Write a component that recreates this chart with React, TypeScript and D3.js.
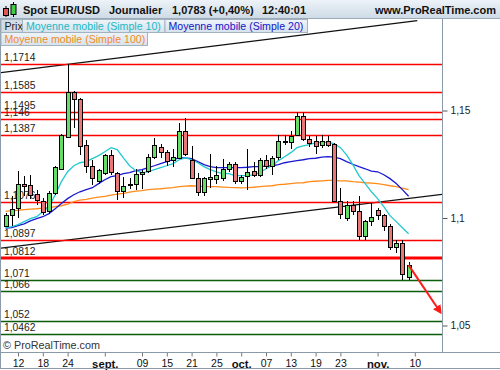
import React, { useRef, useEffect } from "react";
import * as d3 from "d3";

const FONT = "'Liberation Sans', Arial, Helvetica, sans-serif";

// daily candles, 10 aug -> 9 nov 2015 (trading days only)
const opens = [
  1.0964, 1.1014, 1.1048, 1.1157, 1.1152, 1.111, 1.108, 1.1031, 1.1116, 1.1229,
  1.1377, 1.1584, 1.1553, 1.134, 1.124, 1.117, 1.1209, 1.1294, 1.1209, 1.1124,
  1.1155, 1.1158, 1.1203, 1.122, 1.1284, 1.133, 1.1308, 1.127, 1.128, 1.1403,
  1.1271, 1.1186, 1.1121, 1.1183, 1.1181, 1.1186, 1.1229, 1.1251, 1.117, 1.1194,
  1.122, 1.1198, 1.1271, 1.1243, 1.1284, 1.1355, 1.1353, 1.1387, 1.1476, 1.1367,
  1.1356, 1.1341, 1.1356, 1.1344, 1.1077, 1.1, 1.1062, 1.1034, 1.0918, 1.0987,
  1.1039, 1.1015, 1.0964, 1.0865, 1.0884, 1.0726,
];
const highs = [
  1.1022, 1.11, 1.1218, 1.1195, 1.1201, 1.113, 1.1095, 1.1125, 1.124, 1.1391,
  1.1714, 1.159, 1.156, 1.1364, 1.1271, 1.123, 1.13, 1.1318, 1.1215, 1.1193,
  1.1187, 1.1229, 1.1225, 1.1298, 1.1372, 1.1343, 1.1315, 1.132, 1.1442, 1.1463,
  1.1333, 1.121, 1.119, 1.13, 1.124, 1.1274, 1.126, 1.126, 1.12, 1.1321,
  1.126, 1.128, 1.1294, 1.129, 1.1385, 1.1385, 1.1405, 1.1492, 1.1495, 1.138,
  1.138, 1.1385, 1.138, 1.135, 1.114, 1.1077, 1.1077, 1.11, 1.099, 1.107,
  1.1045, 1.102, 1.097, 1.0896, 1.0896, 1.0794,
];
const lows = [
  1.0958, 1.0964, 1.1001, 1.1102, 1.1087, 1.106, 1.1015, 1.1018, 1.1108, 1.1225,
  1.137, 1.142, 1.1294, 1.1209, 1.1155, 1.116, 1.12, 1.12, 1.1085, 1.1093,
  1.1135, 1.1132, 1.1135, 1.1208, 1.1275, 1.128, 1.124, 1.1235, 1.1278, 1.129,
  1.118, 1.11, 1.1104, 1.114, 1.116, 1.117, 1.1215, 1.116, 1.116, 1.1132,
  1.119, 1.119, 1.123, 1.12, 1.127, 1.134, 1.132, 1.138, 1.136, 1.133,
  1.13, 1.1325, 1.133, 1.1074, 1.0995, 1.0986, 1.1015, 1.0899, 1.0897, 1.0961,
  1.099, 1.0938, 1.0853, 1.0837, 1.071, 1.071,
];
const closes = [
  1.1015, 1.1042, 1.116, 1.115, 1.1105, 1.1083, 1.1028, 1.1116, 1.1235, 1.1387,
  1.1584, 1.1554, 1.1336, 1.1243, 1.1186, 1.1221, 1.1294, 1.1212, 1.1127, 1.115,
  1.116, 1.1206, 1.1215, 1.1284, 1.1338, 1.1305, 1.1266, 1.1284, 1.1403, 1.1299,
  1.1186, 1.1121, 1.1186, 1.119, 1.1201, 1.1228, 1.1251, 1.1173, 1.1189, 1.1214,
  1.1198, 1.1271, 1.1243, 1.1278, 1.136, 1.1358, 1.1383, 1.1476, 1.1367, 1.1349,
  1.1333, 1.1356, 1.1341, 1.1077, 1.1019, 1.1062, 1.1031, 1.0918, 1.0984, 1.1005,
  1.1015, 1.0964, 1.0865, 1.0884, 1.0741, 1.0783,
];

// moving averages
const ma10 = [
  1.0955, 1.096, 1.0969, 1.0983, 1.0997, 1.1006, 1.1029, 1.1053, 1.1108, 1.1169,
  1.1215, 1.1243, 1.1257, 1.1262, 1.1276, 1.129, 1.1308, 1.1327, 1.1318, 1.128,
  1.1243, 1.122, 1.1211, 1.1215, 1.1225, 1.1234, 1.1243, 1.1253, 1.1271, 1.128,
  1.1271, 1.1257, 1.1239, 1.1225, 1.1215, 1.1206, 1.1206, 1.1197, 1.1197, 1.1197,
  1.1201, 1.1211, 1.1229, 1.1243, 1.1267, 1.1285, 1.1304, 1.1327, 1.1336, 1.1341,
  1.135, 1.1352, 1.1352, 1.1346, 1.1327, 1.1294, 1.1248, 1.1197, 1.116, 1.1122,
  1.109, 1.1053, 1.1011, 1.0983, 1.0955, 1.0927,
];
const ma20 = [
  1.0953, 1.0955, 1.0964, 1.0973, 1.0987, 1.0997, 1.1006, 1.102, 1.1043, 1.1067,
  1.109, 1.1108, 1.1122, 1.1132, 1.1141, 1.116, 1.1178, 1.1192, 1.1197, 1.1206,
  1.1211, 1.122, 1.1225, 1.1234, 1.1243, 1.1253, 1.1262, 1.1271, 1.128, 1.128,
  1.1276, 1.1262, 1.1248, 1.1239, 1.1234, 1.1234, 1.1234, 1.1234, 1.1234, 1.1236,
  1.1239, 1.1239, 1.1241, 1.1243, 1.1248, 1.1257, 1.1262, 1.1267, 1.1271, 1.1276,
  1.1278, 1.1283, 1.1285, 1.1283, 1.1276, 1.1262, 1.125, 1.1239, 1.1229, 1.1218,
  1.1215, 1.1201, 1.1183, 1.116, 1.1132, 1.1101,
];
const ma100 = [
  1.1031, 1.1034, 1.1036, 1.1039, 1.1041, 1.1043, 1.1046, 1.1048, 1.1053, 1.1057,
  1.1064, 1.1076, 1.1083, 1.1087, 1.1092, 1.1097, 1.1101, 1.1106, 1.1111, 1.1115,
  1.112, 1.1125, 1.1127, 1.1132, 1.1134, 1.1136, 1.1139, 1.1141, 1.1146, 1.1148,
  1.115, 1.1148, 1.1146, 1.1146, 1.1146, 1.1144, 1.1142, 1.1141, 1.114, 1.1141,
  1.1143, 1.1146, 1.1148, 1.115, 1.1155, 1.1157, 1.116, 1.1163, 1.1164, 1.1169,
  1.1171, 1.1173, 1.1175, 1.1175, 1.1173, 1.1173, 1.1169, 1.1167, 1.1164, 1.1162,
  1.116, 1.1155, 1.115, 1.1146, 1.1139, 1.1132,
];

// drawn levels
const redLevels = [1.1714, 1.1585, 1.1495, 1.146, 1.1387, 1.1076, 1.0897];
const keyLevels = [1.0812];
const greenLevels = [1.071, 1.066, 1.052, 1.0462];

// channel + arrow, as [candle index, price]
const upperChannel = [[-0.9, 1.1676], [66.4, 1.1918]];
const lowerChannel = [[-0.9, 1.0859], [70.4, 1.111]];
const arrowPts = [[65, 1.0781], [70.1, 1.0563]];

const yTicks = [1.05, 1.1, 1.15];
const xTickIdx = [2, 6, 10, 16, 22, 26, 30, 34, 38, 42, 46, 50, 54, 60, 66];
const xTickLabels = ["12", "18", "24", "sept.", "09", "15", "21", "25", "oct.", "07", "13", "19", "23", "nov.", "10"];

const App = () => {
  const svgRef = useRef(null);

  useEffect(() => {
    const svg = d3.select(svgRef.current);
    svg.selectAll("*").remove();

    const x = d3.scaleLinear().domain([0, 65]).range([5.6, 408.6]);
    const y = d3.scaleLinear().domain([1.05, 1.15]).range([325.5, 110.5]);
    const loc = d3.formatLocale({ decimal: ",", thousands: " ", grouping: [3], currency: ["", ""] });
    const fmt = loc.format(".4~f");
    const px = (v) => Math.round(v) + 0.5;
    const axisCol = "#8a9aa8";

    const defs = svg.append("defs");
    const hdr = defs.append("linearGradient").attr("id", "hdr").attr("x1", 0).attr("y1", 0).attr("x2", 0).attr("y2", 1);
    hdr.append("stop").attr("offset", "0%").attr("stop-color", "#edf3f8");
    hdr.append("stop").attr("offset", "100%").attr("stop-color", "#cddae5");
    const leg = defs.append("linearGradient").attr("id", "leg").attr("x1", 0).attr("y1", 0).attr("x2", 0).attr("y2", 1);
    leg.append("stop").attr("offset", "0%").attr("stop-color", "#eef4f9");
    leg.append("stop").attr("offset", "100%").attr("stop-color", "#d6e2ec");
    defs.append("clipPath").attr("id", "plotClip")
      .append("rect").attr("x", 1).attr("y", 19).attr("width", 441).attr("height", 333);
    defs.append("marker").attr("id", "arrowHead")
      .attr("viewBox", "0 0 10 10").attr("refX", 7).attr("refY", 5)
      .attr("markerWidth", 4.5).attr("markerHeight", 4.5).attr("orient", "auto")
      .append("path").attr("d", "M0,0L10,5L0,10Z").attr("fill", "#ff1a1a");

    svg.append("rect").attr("width", 500).attr("height", 370).attr("fill", "#fff");

    const g = svg.append("g").attr("clip-path", "url(#plotClip)");

    // channel
    const seg = d3.line().x((d) => x(d[0])).y((d) => y(d[1]));
    [upperChannel, lowerChannel].forEach((pts) => {
      g.append("path").attr("d", seg(pts)).attr("stroke", "#111").attr("stroke-width", 1.3).attr("fill", "none");
    });

    // horizontal levels
    g.selectAll(".red").data(redLevels).enter().append("line")
      .attr("x1", 1).attr("x2", 442).attr("y1", (d) => px(y(d))).attr("y2", (d) => px(y(d)))
      .attr("stroke", "#ff0000").attr("stroke-width", 1.5);
    g.selectAll(".key").data(keyLevels).enter().append("line")
      .attr("x1", 1).attr("x2", 442).attr("y1", (d) => Math.round(y(d))).attr("y2", (d) => Math.round(y(d)))
      .attr("stroke", "#ff0000").attr("stroke-width", 2.8);
    g.selectAll(".grn").data(greenLevels).enter().append("line")
      .attr("x1", 1).attr("x2", 442).attr("y1", (d) => px(y(d))).attr("y2", (d) => px(y(d)))
      .attr("stroke", "#0b5e0b").attr("stroke-width", 1.3);

    g.selectAll(".lvl").data([...redLevels, ...keyLevels, ...greenLevels]).enter().append("text")
      .attr("x", 4).attr("y", (d) => Math.round(y(d)) - 3.5)
      .attr("font-size", 10.3).attr("fill", "#222").text((d) => fmt(d));

    // moving averages
    const ma = d3.line().x((d, i) => x(i)).y((d) => y(d));
    g.append("path").attr("d", ma(ma100)).attr("stroke", "#ff8c1a").attr("stroke-width", 1.3).attr("fill", "none");
    g.append("path").attr("d", ma(ma20)).attr("stroke", "#1a1ad0").attr("stroke-width", 1.3).attr("fill", "none");
    g.append("path").attr("d", ma(ma10)).attr("stroke", "#22c8d0").attr("stroke-width", 1.3).attr("fill", "none");

    // candles
    const idx = d3.range(closes.length);
    g.selectAll(".wick").data(idx).enter().append("line")
      .attr("x1", (i) => px(x(i))).attr("x2", (i) => px(x(i)))
      .attr("y1", (i) => Math.round(y(highs[i]))).attr("y2", (i) => Math.round(y(lows[i])))
      .attr("stroke", "#000").attr("stroke-width", 1);
    g.selectAll(".body").data(idx).enter().append("rect")
      .attr("x", (i) => Math.round(x(i)) - 1.5).attr("width", 4)
      .attr("y", (i) => Math.round(y(Math.max(opens[i], closes[i]))) + 0.5)
      .attr("height", (i) => Math.max(1, Math.round(y(Math.min(opens[i], closes[i]))) - Math.round(y(Math.max(opens[i], closes[i])))))
      .attr("fill", (i) => (closes[i] >= opens[i] ? "#66dd66" : "#e87777"))
      .attr("stroke", "#000").attr("stroke-width", 1);

    // arrow
    g.append("path").attr("d", seg(arrowPts)).attr("stroke", "#ff1a1a").attr("stroke-width", 2)
      .attr("fill", "none").attr("marker-end", "url(#arrowHead)");

    // right axis
    const yAxis = d3.axisRight(y).tickValues(yTicks).tickSize(5).tickPadding(3).tickFormat((d) => loc.format(".2~f")(d));
    const ya = svg.append("g").attr("transform", "translate(442.5,0)").call(yAxis);
    ya.select(".domain").remove();
    ya.selectAll("line").attr("stroke", "#555");
    ya.selectAll("text").attr("font-size", 10.3).attr("fill", "#222").attr("font-family", FONT);
    svg.append("line").attr("x1", 442.5).attr("x2", 442.5).attr("y1", 19).attr("y2", 352).attr("stroke", axisCol);

    // bottom axis
    const xAxis = d3.axisBottom(x).tickValues(xTickIdx).tickSize(4).tickPadding(3).tickFormat((d, i) => xTickLabels[i]);
    const xa = svg.append("g").attr("transform", "translate(0,352.5)").call(xAxis);
    xa.select(".domain").remove();
    xa.selectAll("line").attr("stroke", "#777");
    xa.selectAll("text").attr("font-family", FONT).attr("fill", "#111")
      .attr("font-size", (d, i) => (xTickLabels[i].endsWith(".") ? 11.3 : 10.5))
      .attr("font-weight", (d, i) => (xTickLabels[i].endsWith(".") ? "bold" : "normal"));
    svg.append("line").attr("x1", 0).attr("x2", 500).attr("y1", 352.5).attr("y2", 352.5).attr("stroke", axisCol);
    svg.append("line").attr("x1", 0).attr("x2", 500).attr("y1", 368.5).attr("y2", 368.5).attr("stroke", axisCol);
    svg.append("line").attr("x1", 0.5).attr("x2", 0.5).attr("y1", 18).attr("y2", 369).attr("stroke", axisCol);

    svg.append("text").attr("x", 3).attr("y", 348.5).attr("font-size", 10.8).attr("fill", "#333")
      .text("\u00a9 ProRealTime.com");

    // header bar
    svg.append("rect").attr("x", 0).attr("y", 0).attr("width", 500).attr("height", 18.5).attr("fill", "url(#hdr)");
    svg.append("line").attr("x1", 0).attr("x2", 500).attr("y1", 18.5).attr("y2", 18.5).attr("stroke", "#9aaab8");
    // small candle icon
    svg.append("line").attr("x1", 6).attr("x2", 6).attr("y1", 6).attr("y2", 17).attr("stroke", "#000");
    svg.append("rect").attr("x", 3.5).attr("y", 8.5).attr("width", 5).attr("height", 7).attr("fill", "#e05555").attr("stroke", "#000");
    svg.append("line").attr("x1", 13.5).attr("x2", 13.5).attr("y1", 2).attr("y2", 17).attr("stroke", "#000");
    svg.append("rect").attr("x", 11).attr("y", 4.5).attr("width", 5).attr("height", 10).attr("fill", "#44cc44").attr("stroke", "#000");

    const head = [
      ["Spot EUR/USD", 23, "start"],
      ["Journalier", 109, "start"],
      ["1,0783 (+0,40%)", 172, "start"],
      ["12:40:01", 262, "start"],
      ["www.ProRealTime.com", 496, "end"],
    ];
    svg.selectAll(".head").data(head).enter().append("text")
      .attr("x", (d) => d[1]).attr("y", 14).attr("text-anchor", (d) => d[2])
      .attr("font-size", 11).attr("font-weight", "bold").attr("fill", "#111").text((d) => d[0]);

    // legend boxes
    const legends = [
      ["Prix", 1, 19.5, 21.5, "#222", "#d3dce4"],
      ["Moyenne mobile (Simple 10)", 22.5, 19.5, 142.5, "#1ab8c4", "url(#leg)"],
      ["Moyenne mobile (Simple 20)", 165, 19.5, 142.5, "#1414c8", "url(#leg)"],
      ["Moyenne mobile (Simple 100)", 1, 32.5, 146.5, "#f28a1e", "url(#leg)"],
    ];
    legends.forEach(([t, lx, ly, lw, col, bg]) => {
      svg.append("rect").attr("x", lx).attr("y", ly).attr("width", lw).attr("height", 13)
        .attr("fill", bg).attr("stroke", "#a3b2bf");
      svg.append("text").attr("x", lx + 3.5).attr("y", ly + 10.3).attr("font-size", 10.6)
        .attr("fill", col).text(t);
    });
  }, []);

  return (
    <svg
      ref={svgRef}
      width={500}
      height={370}
      style={{ position: "absolute", left: 0, top: 0, fontFamily: FONT }}
    />
  );
};

export default App;
